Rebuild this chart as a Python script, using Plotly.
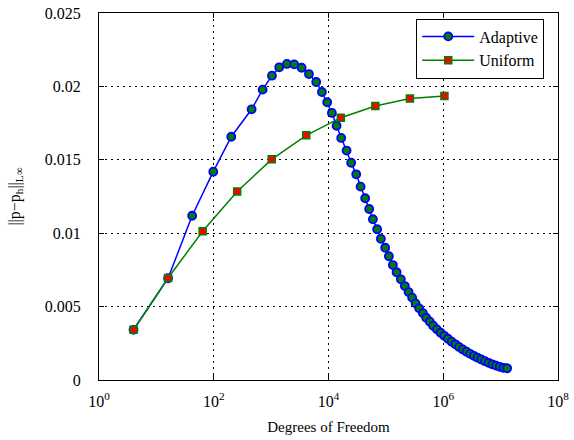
import plotly.graph_objects as go

uniform_dof = [4, 16, 64, 256, 1024, 4096, 16384, 65536, 262144, 1048576]
uniform_err = [0.00342, 0.00695, 0.01013, 0.01284, 0.01503, 0.01667, 0.01787,
               0.01867, 0.01917, 0.01935]

adaptive_dof = [4, 16, 42, 98, 202, 457, 711, 1033, 1384, 1885, 2524, 3397, 4560,
                6110, 7680, 9490, 11460, 13840, 16640, 20660, 24850, 30390, 36250,
                43560, 51170, 59380, 70520, 81800, 97270, 112800, 132400, 153600,
                182500, 214300, 248500, 287000, 328900, 380000, 441400, 503700,
                584500, 667200, 774100, 897900, 1.04e6, 1.207e6, 1.40e6, 1.625e6,
                1.885e6, 2.19e6, 2.54e6, 2.94e6, 3.41e6, 3.96e6, 4.59e6, 5.33e6,
                6.18e6, 7.17e6, 8.32e6, 9.64e6, 1.12e7, 1.30e7]
adaptive_err = [0.00342, 0.00693, 0.01119, 0.01419, 0.01657, 0.01844, 0.01978,
                0.02073, 0.02130, 0.02153, 0.02150, 0.02127, 0.02084, 0.02030,
                0.01962, 0.01892, 0.01819, 0.01732, 0.01649, 0.01563, 0.01480,
                0.01401, 0.01317, 0.01238, 0.01165, 0.01095, 0.01027, 0.00962,
                0.00901, 0.00843, 0.00783, 0.00734, 0.00686, 0.00640, 0.00599,
                0.00561, 0.00522, 0.00488, 0.00456, 0.00424, 0.00397, 0.00370,
                0.00345, 0.00322, 0.00301, 0.00281, 0.00261, 0.00243, 0.00225,
                0.00208, 0.00193, 0.00178, 0.00165, 0.00152, 0.00140, 0.00128,
                0.00117, 0.00107, 0.00098, 0.00090, 0.00083, 0.00080]

x_tickvals = [1, 1e2, 1e4, 1e6, 1e8]
x_ticktext = ["10<sup>0</sup>", "10<sup>2</sup>", "10<sup>4</sup>",
              "10<sup>6</sup>", "10<sup>8</sup>"]
y_tickvals = [0, 0.005, 0.01, 0.015, 0.02, 0.025]
y_ticktext = ["0", "0.005", "0.01", "0.015", "0.02", "0.025"]

FONT = "Liberation Serif"

fig = go.Figure()
fig.add_trace(go.Scatter(
    x=adaptive_dof, y=adaptive_err, mode="lines+markers", name="Adaptive",
    line=dict(color="#0000ff", width=1.5),
    marker=dict(symbol="circle", size=8, color="#008000",
                line=dict(color="#0000ff", width=1.8)),
))
fig.add_trace(go.Scatter(
    x=uniform_dof, y=uniform_err, mode="lines+markers", name="Uniform",
    line=dict(color="#008000", width=1.5),
    marker=dict(symbol="square", size=7, color="#ff0000",
                line=dict(color="#008000", width=1.5)),
))

axis_common = dict(
    showline=True, linecolor="black", linewidth=1, mirror="ticks",
    ticks="inside", ticklen=5, tickcolor="black",
    showgrid=True, gridcolor="black", gridwidth=1, griddash="2px,4px",
    zeroline=False, automargin=False,
    tickfont=dict(family=FONT, size=16, color="black"),
)

fig.update_xaxes(type="log", range=[0, 8], tickvals=x_tickvals, ticktext=x_ticktext,
                 ticklabelstandoff=7,
                 title=dict(text="Degrees of Freedom",
                            font=dict(family=FONT, size=15, color="black"),
                            standoff=12),
                 **axis_common)
fig.update_yaxes(range=[0, 0.025], tickvals=y_tickvals, ticktext=y_ticktext,
                 ticklabelstandoff=14,
                 title=dict(text="||p\u2212p<sub>h</sub>||<sub>L\u221e</sub>",
                            font=dict(family=FONT, size=16, color="black"),
                            standoff=20),
                 **axis_common)

fig.update_layout(
    width=574, height=440,
    margin=dict(l=99, r=16, t=13, b=60),
    paper_bgcolor="white", plot_bgcolor="white",
    font=dict(family=FONT, size=15, color="black"),
    showlegend=True,
    legend=dict(x=0.97, y=0.985, xanchor="right", yanchor="top",
                bgcolor="white", bordercolor="black", borderwidth=1,
                font=dict(family=FONT, size=16, color="black"),
                tracegroupgap=0, itemwidth=52),
)

fig.write_html("out.html")
